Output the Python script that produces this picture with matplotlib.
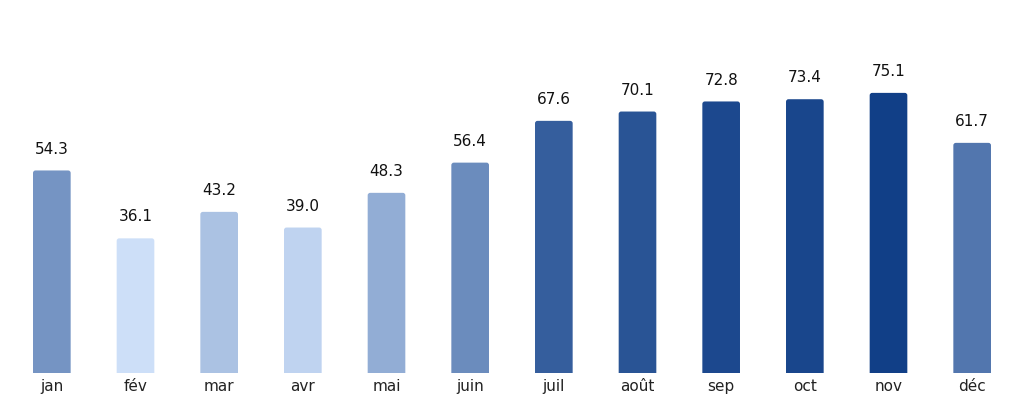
import numpy as np
import matplotlib
matplotlib.use('Agg')
import matplotlib.pyplot as plt
from matplotlib.patches import FancyBboxPatch
from matplotlib.colors import to_rgb

months = ['jan', 'fév', 'mar', 'avr', 'mai', 'juin', 'juil', 'août', 'sep', 'oct', 'nov', 'déc']
values = [54.3, 36.1, 43.2, 39.0, 48.3, 56.4, 67.6, 70.1, 72.8, 73.4, 75.1, 61.7]

light = np.array(to_rgb('#cddff8'))
dark = np.array(to_rgb('#113f87'))

fig = plt.figure(figsize=(10.24, 4.04), dpi=100)
ax = fig.add_axes([10/1024, 31/404, 1004/1024, 373/404])

vmin, vmax = min(values), max(values)
x = np.arange(len(months))
width = 0.45
# px -> data ratio so the corner rounding looks circular
aspect = (100.0 / 373) / (12.0 / 1004)
for i, v in enumerate(values):
    t = (v - vmin) / (vmax - vmin)
    col = light + (dark - light) * t
    p = FancyBboxPatch((x[i] - width / 2, -3), width, v + 3,
                       boxstyle='round,pad=0,rounding_size=0.03',
                       mutation_aspect=aspect, fc=col, ec='none')
    ax.add_patch(p)
    ax.annotate(f'{v:.1f}', (x[i], v), xytext=(0, 10), textcoords='offset points',
                ha='center', va='bottom', fontsize=11, color='#111111')

ax.set_xlim(-0.5, len(months) - 0.5)
ax.set_ylim(0, 100)
ax.set_xticks(x)
ax.set_xticklabels(months, fontsize=11, color='#222222')
ax.tick_params(axis='x', length=0, pad=4)
ax.set_yticks([])
for s in ax.spines.values():
    s.set_visible(False)

fig.savefig('out.png', dpi=100)
